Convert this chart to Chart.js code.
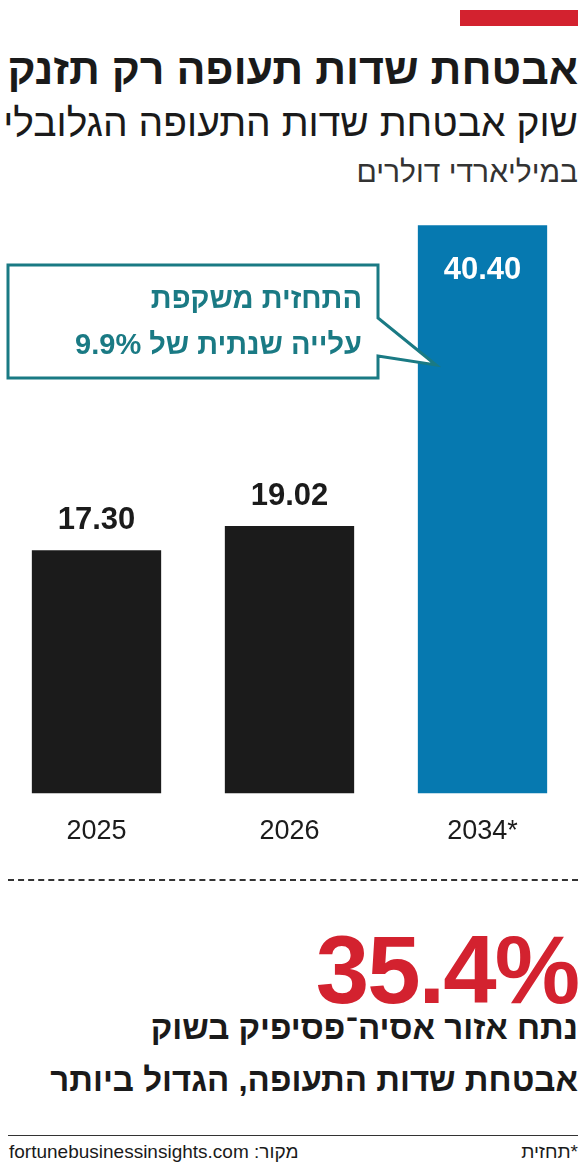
<!DOCTYPE html>
<html><head><meta charset="utf-8">
<script src="https://cdn.jsdelivr.net/npm/chart.js@4"></script>
<style>
body{margin:0;width:587px;height:1170px;background:#fff;position:relative;font-family:"Liberation Sans","DejaVu Sans",sans-serif;direction:rtl;overflow:hidden}
.a{position:absolute;right:9px;white-space:nowrap;line-height:1}
#cw{position:absolute;left:0;top:200px;width:587px;height:662px;direction:ltr}
</style></head><body>
<div style="position:absolute;left:460px;top:10px;width:118px;height:16px;background:#d3222f"></div>
<div class="a" style="top:48px;font-size:43px;font-weight:bold;color:#1a1a1a">אבטחת שדות תעופה רק תזנק</div>
<div class="a" style="top:103px;font-size:39px;color:#1a1a1a">שוק אבטחת שדות התעופה הגלובלי</div>
<div class="a" style="top:157px;font-size:30px;color:#333">במיליארדי דולרים</div>
<div id="cw"><canvas id="c"></canvas></div>
<div style="position:absolute;left:8px;top:879px;width:570px;border-top:2px dashed #333"></div>
<div class="a" style="top:922px;font-size:96px;font-weight:bold;color:#d3222f;direction:ltr;letter-spacing:-2px">35.4%</div>
<div class="a" style="top:1011px;font-size:33px;font-weight:bold;color:#1a1a1a">נתח אזור אסיה־פסיפיק בשוק</div>
<div class="a" style="top:1063px;font-size:33px;font-weight:bold;color:#1a1a1a">אבטחת שדות התעופה, הגדול ביותר</div>
<div style="position:absolute;left:8px;top:1135px;width:570px;border-top:1.5px solid #333"></div>
<div class="a" style="top:1142px;font-size:19px;color:#1a1a1a">*תחזית</div>
<div style="position:absolute;left:9px;top:1142px;font-size:19px;line-height:1;color:#1a1a1a;white-space:nowrap">מקור: fortunebusinessinsights.com</div>
<script>
const categories=["2025","2026","2034*"];
const values=[17.30,19.02,40.40];
const valueLabels=["17.30","19.02","40.40"];
const colors=["#1b1b1b","#1b1b1b","#0679b0"];
const note=["התחזית משקפת","עלייה שנתית של 9.9%"];
const plug={id:"p",afterDatasetsDraw(ch){
 const ctx=ch.ctx,m=ch.getDatasetMeta(0);
 ctx.save();ctx.textAlign="center";ctx.font="bold 31px 'Liberation Sans'";
 m.data.forEach((b,i)=>{
  if(i==2){ctx.fillStyle="#fff";ctx.textBaseline="top";ctx.fillText(valueLabels[i],b.x,b.y+30);}
  else{ctx.fillStyle="#1b1b1b";ctx.textBaseline="bottom";ctx.fillText(valueLabels[i],b.x,b.y-14);}
 });
 const x0=8,y0=65,x1=378,y1=178,c="#1a7a84";
 ctx.fillStyle="#fff";ctx.strokeStyle=c;ctx.lineWidth=3;
 ctx.beginPath();ctx.moveTo(x0,y0);ctx.lineTo(x1,y0);ctx.lineTo(x1,y1-60);ctx.lineTo(436,165);ctx.lineTo(x1,y1-22);ctx.lineTo(x1,y1);ctx.lineTo(x0,y1);ctx.closePath();ctx.fill();ctx.stroke();
 ctx.fillStyle=c;ctx.font="bold 29px 'Liberation Sans'";ctx.textAlign="right";ctx.textBaseline="middle";ctx.direction="rtl";
 ctx.fillText(note[0],362,100);ctx.fillText(note[1],362,146);
 ctx.restore();}};
new Chart(document.getElementById("c"),{type:"bar",
 data:{labels:categories,datasets:[{data:values,backgroundColor:colors,categoryPercentage:1,barPercentage:0.67}]},
 options:{responsive:true,maintainAspectRatio:false,animation:false,
  layout:{padding:{top:0,left:0,right:8,bottom:0}},
  plugins:{legend:{display:false},tooltip:{enabled:false}},
  scales:{y:{display:false,min:0,max:42.2},
   x:{grid:{display:false},border:{display:false},ticks:{color:"#1b1b1b",font:{size:27,family:"Liberation Sans"},padding:14}}}},
 plugins:[plug]});
</script></body></html>
